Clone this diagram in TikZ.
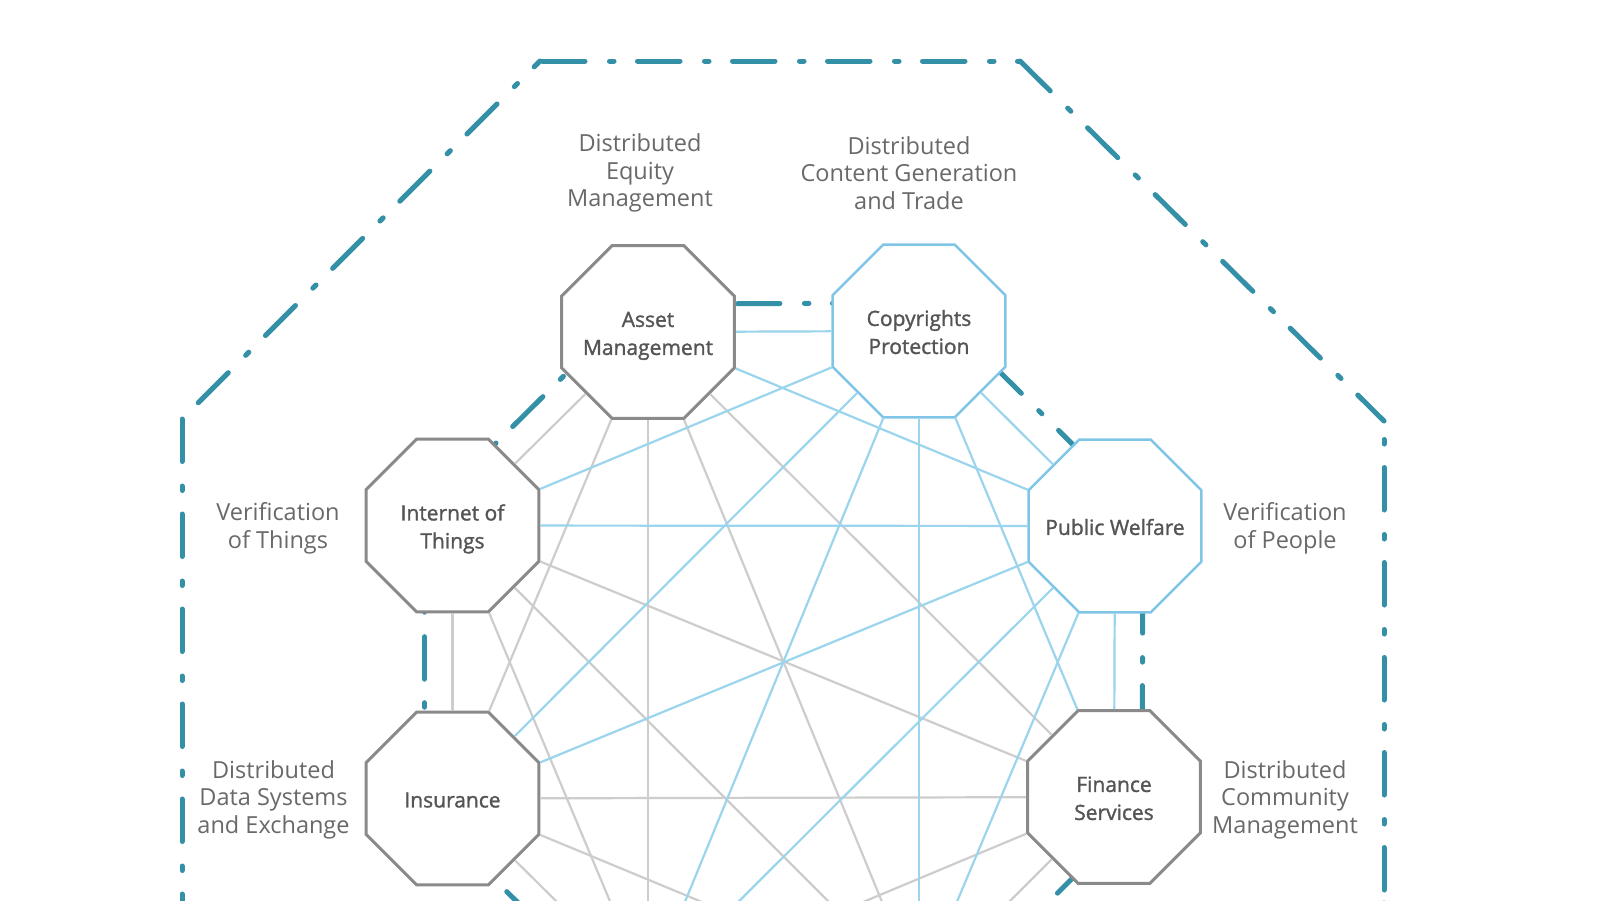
\documentclass[tikz,border=0pt]{standalone}
\usepackage{fontspec}
\setmainfont{Open Sans}
\newfontfamily\hubfont[FakeBold=1.4]{Open Sans}
\usetikzlibrary{shapes.geometric,calc}
\definecolor{tealline}{RGB}{52,144,167}
\definecolor{linkgray}{RGB}{205,205,205}
\definecolor{linkblue}{RGB}{155,213,237}
\definecolor{hubgray}{RGB}{138,138,138}
\definecolor{hubblue}{RGB}{128,197,229}
\definecolor{hubtext}{RGB}{85,85,85}
\definecolor{labgray}{RGB}{105,105,105}
\newcommand{\hubtxt}[1]{\raisebox{-8.5pt}[0pt][0pt]{\makebox[0pt]{\begin{tabular}{@{}c@{}}#1\end{tabular}}}}
\tikzset{
  hub/.style={regular polygon, regular polygon sides=8, minimum size=187pt, inner sep=0pt,
    fill=white, draw=hubgray, line width=3pt, text=hubtext,
    font=\hubfont\fontsize{21}{28}\selectfont},
  hubb/.style={hub, draw=hubblue, line width=2.5pt},
  glink/.style={draw=linkgray, line width=2.2pt},
  blink/.style={draw=linkblue, line width=2.2pt},
  ring/.style={draw=tealline, line width=5pt, line cap=round,
    dash pattern=on 42.5pt off 24.5pt on 4.5pt off 23.5pt},
  lab/.style={align=center, inner sep=0pt, text=labgray,
    font=\fontsize{23.5}{27.5}\selectfont}
}
\begin{document}
\begin{tikzpicture}[x=1pt,y=-1pt]
\useasboundingbox (0,0) rectangle (1600,900);
\fill[white] (0,0) rectangle (1600,900);
\clip (0,0) rectangle (1600,900);
% outer octagon corners
\coordinate (oTL) at (540,61);
\coordinate (oTR) at (1020,61);
\coordinate (oRT) at (1384,421);
\coordinate (oRB) at (1384,903);
\coordinate (oBR) at (1020,1263);
\coordinate (oBL) at (540,1263);
\coordinate (oLB) at (182,903);
\coordinate (oLT) at (182,419);
\draw[ring, dash phase=92.5pt] (oTL) -- (oTR);
\draw[ring, dash phase=0pt] (oTR) -- (oRT);
\draw[ring, dash phase=48.5pt] (oRT) -- (oRB);
\draw[ring, dash phase=0pt] (oRB) -- (oBR) -- (oBL) -- (oLB);
\draw[ring, dash phase=0pt] (oLT) -- (oLB);
\draw[ring, dash phase=72pt] (oLT) -- (oTL);
% hub centres
\coordinate (pA) at (648,332);
\coordinate (pC) at (919,331);
\coordinate (pP) at (1115,526);
\coordinate (pF) at (1114,797);
\coordinate (pB1) at (919,992);
\coordinate (pB2) at (648,992);
\coordinate (pIns) at (452.5,798.5);
\coordinate (pI) at (452.5,525.5);
% inner ring
\draw[ring, dash phase=5.5pt] ($(pA)!28pt!90:(pC)$) -- ($(pC)!28pt!-90:(pA)$);
\draw[ring, dash phase=21pt] ($(pC)!28pt!90:(pP)$) -- ($(pP)!28pt!-90:(pC)$);
\draw[ring, dash phase=30.5pt] ($(pP)!28pt!90:(pF)$) -- ($(pF)!28pt!-90:(pP)$);
\draw[ring, dash phase=29.5pt] ($(pF)!28pt!90:(pB1)$) -- ($(pB1)!28pt!-90:(pF)$);
\draw[ring, dash phase=0pt] ($(pB1)!28pt!90:(pB2)$) -- ($(pB2)!28pt!-90:(pB1)$);
\draw[ring, dash phase=61.5pt] ($(pB2)!28pt!90:(pIns)$) -- ($(pIns)!28pt!-90:(pB2)$);
\draw[ring, dash phase=70.7pt] ($(pIns)!28pt!90:(pI)$) -- ($(pI)!28pt!-90:(pIns)$);
\draw[ring, dash phase=77.6pt] ($(pI)!28pt!90:(pA)$) -- ($(pA)!28pt!-90:(pI)$);
% hubs
\node[hub] (A) at (pA) {\hubtxt{Asset\\Management}};
\node[hubb] (C) at (pC) {\hubtxt{Copyrights\\Protection}};
\node[hubb] (P) at (pP) {\hubtxt{Public Welfare}};
\node[hub] (F) at (pF) {\hubtxt{Finance\\Services}};
\node[hub] (Ins) at (pIns) {\hubtxt{Insurance}};
\node[hub] (I) at (pI) {\hubtxt{Internet of\\Things}};
% gray links
\foreach \u/\v in {A/F, A/pB1, A/pB2, A/Ins, A/I, F/pB1, F/pB2, F/Ins, F/I,
  pB1/pB2, pB1/Ins, pB1/I, pB2/Ins, pB2/I, Ins/I}
  \draw[glink] (\u) -- (\v);
% blue links
\foreach \u/\v in {C/A, C/P, C/F, C/pB1, C/pB2, C/Ins, C/I,
  P/A, P/F, P/pB1, P/pB2, P/Ins, P/I}
  \draw[blink] (\u) -- (\v);
% labels
\node[lab] (l1) at (640,173) {Distributed\\Equity\\Management};
\node[lab] (l2) at (909,173) {Distributed\\Content Generation\\and Trade};
\node[lab] (l3) at (278,528.5) {Verification\\of Things};
\node[lab] (l4) at (1285,528.5) {Verification\\of People};
\node[lab] (l5) at (273.5,799.5) {Distributed\\Data Systems\\and Exchange};
\node[lab] (l6) at (1285,799.5) {Distributed\\Community\\Management};
\end{tikzpicture}
\end{document}
